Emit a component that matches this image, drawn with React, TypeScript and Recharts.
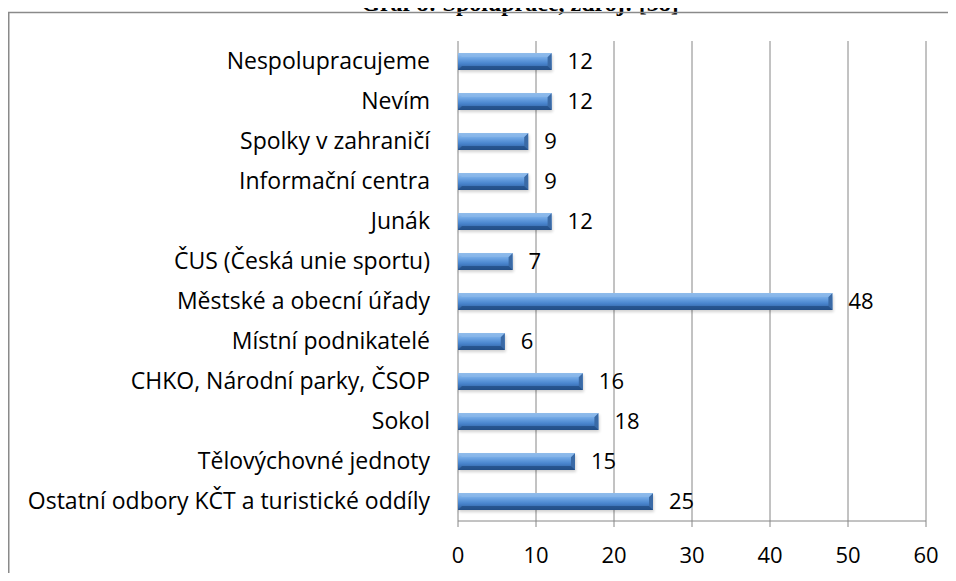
import React from "react";
import {
  BarChart,
  Bar,
  XAxis,
  YAxis,
  CartesianGrid,
  LabelList,
} from "recharts";

const categories = [
  "Nespolupracujeme",
  "Nevím",
  "Spolky v zahraničí",
  "Informační centra",
  "Junák",
  "ČUS (Česká unie sportu)",
  "Městské a obecní úřady",
  "Místní podnikatelé",
  "CHKO, Národní parky, ČSOP",
  "Sokol",
  "Tělovýchovné jednoty",
  "Ostatní odbory KČT a turistické oddíly",
];
const counts = [12, 12, 9, 9, 12, 7, 48, 6, 16, 18, 15, 25];
const xTicks = [0, 10, 20, 30, 40, 50, 60];
const boundaryTicks = [0, 1, 2, 3, 4, 5, 6, 7, 8, 9, 10, 11, 12];

const data = categories.map((name, i) => ({ name, value: counts[i] }));

const FONT = "'Open Sans', Lato, sans-serif";

const BevelBar = (props: any) => {
  const { x, y, width, height } = props;
  if (!width || width <= 0) return null;
  const b = Math.min(4, width / 2);
  return (
    <g>
      <rect x={x + 1} y={y + 2} width={width} height={height} fill="#000" opacity={0.18} filter="url(#barShadow)" />
      <rect x={x} y={y} width={width} height={height} fill="url(#barFill)" />
      <polygon
        points={`${x + width - b},${y + b} ${x + width},${y} ${x + width},${y + height} ${x + width - b},${y + height - b}`}
        fill="#3a6aa6"
      />
      <polygon
        points={`${x},${y + height} ${x + b},${y + height - b} ${x + width - b},${y + height - b} ${x + width},${y + height}`}
        fill="#1f4a80"
        opacity={0.7}
      />
      <polygon
        points={`${x},${y} ${x + width},${y} ${x + width - b},${y + b} ${x + b},${y + b}`}
        fill="#8ab8ea"
        opacity={0.7}
      />
    </g>
  );
};

export default function App() {
  return (
    <div style={{ margin: -8, width: 956, height: 581, background: "#fff", position: "relative", overflow: "hidden" }}>
      <svg width={956} height={581} style={{ position: "absolute", left: 0, top: 0 }}>
        <text
          x={520}
          y={11}
          textAnchor="middle"
          fontFamily="'Liberation Serif', 'DejaVu Serif', serif"
          fontWeight="bold"
          fontSize={24}
          fill="#000"
        >
          Graf 8: Spolupráce, zdroj: [38]
        </text>
        <line x1={8} y1={12.5} x2={956} y2={12.5} stroke="#8a8a8a" strokeWidth={1.5} />
        <line x1={8.5} y1={12} x2={8.5} y2={581} stroke="#8a8a8a" strokeWidth={2} />
      </svg>
      <div style={{ position: "absolute", left: 0, top: 0 }}>
        <BarChart
          width={956}
          height={581}
          data={data}
          layout="vertical"
          margin={{ top: 41, right: 30, bottom: 0, left: 0 }}
        >
          <defs>
            <linearGradient id="barFill" x1="0" y1="0" x2="0" y2="1">
              <stop offset="0%" stopColor="#9cc4f0" />
              <stop offset="30%" stopColor="#6fa6e4" />
              <stop offset="60%" stopColor="#4a86cf" />
              <stop offset="100%" stopColor="#2b5a97" />
            </linearGradient>
            <filter id="barShadow" x="-10%" y="-50%" width="120%" height="200%">
              <feGaussianBlur stdDeviation="1.5" />
            </filter>
          </defs>
          <CartesianGrid horizontal={false} stroke="#868686" strokeWidth={1} />
          <XAxis
            type="number"
            domain={[0, 60]}
            ticks={xTicks}
            interval={0}
            height={60}
            stroke="#868686"
            tickSize={6}
            tickMargin={20}
            tick={{ fill: "#000", fontSize: 22, fontFamily: FONT }}
          />
          <YAxis
            yAxisId="cat"
            type="category"
            dataKey="name"
            width={458}
            axisLine={false}
            tickLine={false}
            tickMargin={22}
            interval={0}
            tick={{ fill: "#000", fontSize: 23, fontFamily: FONT }}
          />
          <YAxis
            yAxisId="edges"
            type="number"
            domain={[0, 12]}
            ticks={boundaryTicks}
            interval={0}
            width={0}
            orientation="left"
            stroke="#868686"
            tickSize={6}
            tick={false}
          />
          <Bar
            yAxisId="cat"
            dataKey="value"
            barSize={17}
            shape={<BevelBar />}
            isAnimationActive={false}
          >
            <LabelList
              dataKey="value"
              position="right"
              offset={16}
              fill="#000"
              fontSize={22}
              fontFamily={FONT}
            />
          </Bar>
        </BarChart>
      </div>
    </div>
  );
}
